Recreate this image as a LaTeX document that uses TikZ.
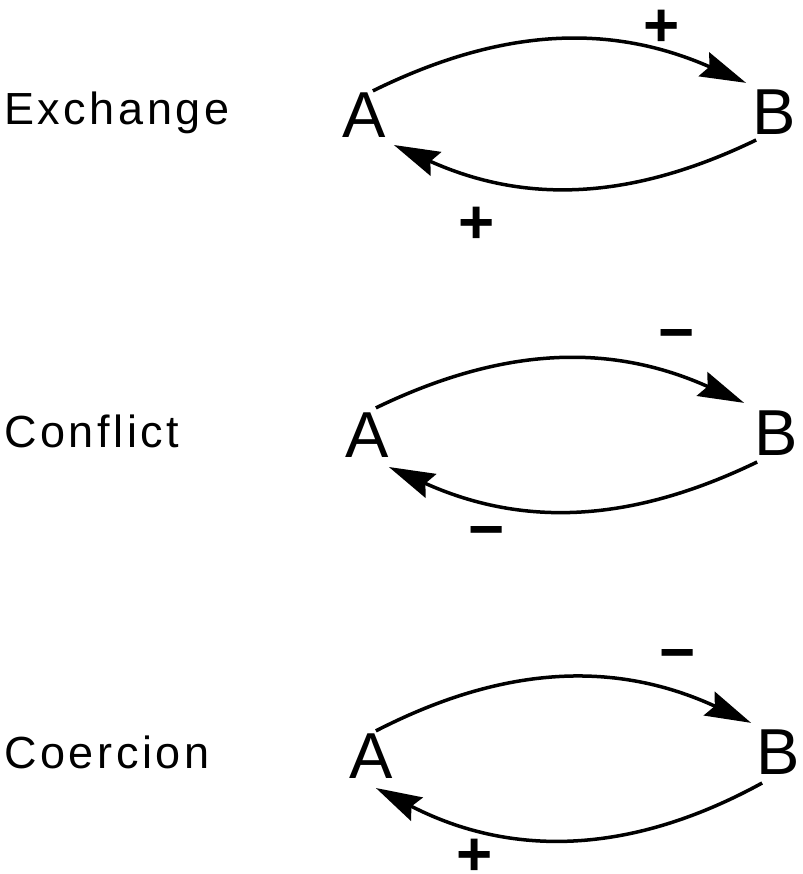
\documentclass[tikz,border=0pt]{standalone}
\usepackage{fontspec}
\setmainfont{Liberation Sans}
\usetikzlibrary{arrows.meta,calc}
\begin{document}
\begin{tikzpicture}[x=1pt,y=-1pt,
  lbl/.style={anchor=base west,inner sep=0pt,font=\fontsize{45}{50}\selectfont\addfontfeature{LetterSpace=8}},
  lett/.style={anchor=south,inner sep=0pt,font=\fontsize{65}{70}\selectfont},
  sgn/.style={anchor=base,inner sep=0pt,font=\fontsize{62}{66}\selectfont\bfseries},
  conn/.style={line width=3.5pt,-{Stealth[length=46pt,width=26pt,inset=6pt]}}]
\useasboundingbox (0,0) rectangle (802,874);

% Exchange
\node[lbl] (L1) at (4,125) {Exchange};
\node[lett] (A1) at (364,138) {A};
\node[lett] (B1) at (774,135) {B};
\draw[conn] ($(A1.north east)+(-13,-2)$) to[bend left=25] ($(B1.north west)+(-6,-7)$);
\draw[conn] ($(B1.south west)+(4,5)$) to[bend left=25] ($(A1.south east)+(8,7)$);
\node[sgn] (p1) at (662,47) {+};
\node[sgn] (p2) at (477,244) {+};

% Conflict
\node[lbl] (L2) at (4,447) {Conflict};
\node[lett] (A2) at (367,458) {A};
\node[lett] (B2) at (776,456) {B};
\draw[conn] ($(A2.north east)+(-13,-5)$) to[bend left=25] ($(B2.north west)+(-10,-8)$);
\draw[conn] ($(B2.south west)+(3,6)$) to[bend left=25] ($(A2.south east)+(0,9)$);
\node[sgn] (m1) at (677,353) {−};
\node[sgn] (m2) at (487,550) {−};

% Coercion
\node[lbl] (L3) at (4,768) {Coercion};
\node[lett] (A3) at (371,779) {A};
\node[lett] (B3) at (778,775) {B};
\draw[conn] ($(A3.north east)+(-17,-3)$) to[bend left=26] ($(B3.north west)+(-5,-7)$);
\draw[conn] ($(B3.south west)+(6,8)$) to[bend left=28] ($(A3.south east)+(-17,9)$);
\node[sgn] (m3) at (678,673) {−};
\node[sgn] (p3) at (475,875) {+};
\end{tikzpicture}
\end{document}
